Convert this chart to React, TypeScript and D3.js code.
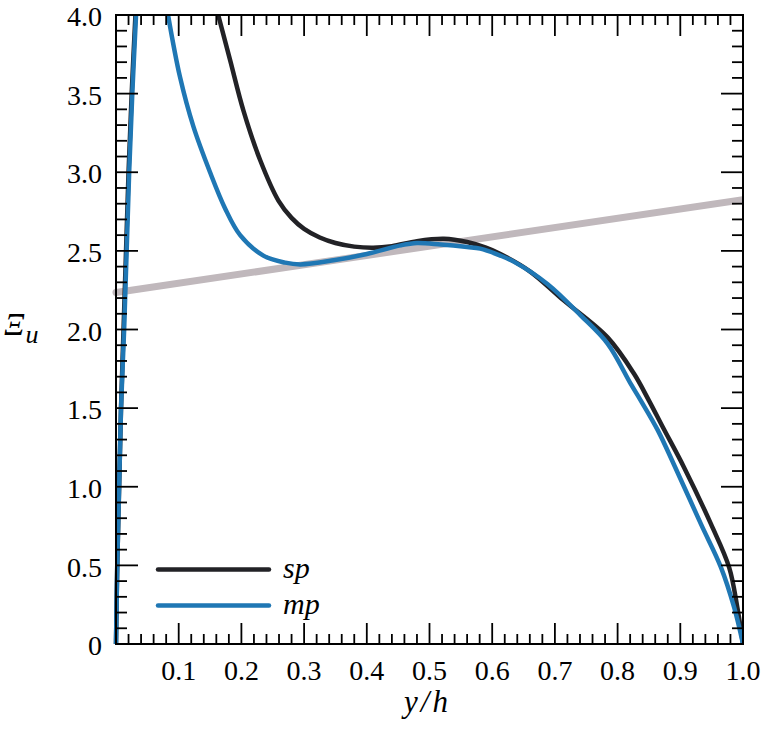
import React, { useRef, useEffect } from 'react';
import * as d3 from 'd3';

// sp: single-phase, mp: multi-phase
const spWallX = [0, 0.002, 0.005, 0.008, 0.012, 0.016, 0.020, 0.025, 0.031];
const spWallY = [0, 0.5, 1.0, 1.5, 2.0, 2.5, 3.0, 3.5, 4.0];
const mpWallX = [0, 0.002, 0.005, 0.008, 0.013, 0.017, 0.021, 0.026, 0.032];
const mpWallY = [0, 0.5, 1.0, 1.5, 2.0, 2.5, 3.0, 3.5, 4.0];

const spOuterX = [0.163, 0.182, 0.203, 0.230, 0.259, 0.28, 0.30, 0.325, 0.35, 0.38, 0.41, 0.44, 0.48, 0.523, 0.56, 0.59, 0.613, 0.66, 0.714, 0.784, 0.826, 0.850, 0.872, 0.906, 0.949, 0.978, 0.991, 1.0];
const spOuterY = [4.0, 3.713, 3.395, 3.076, 2.82, 2.71, 2.64, 2.585, 2.55, 2.527, 2.52, 2.53, 2.562, 2.577, 2.556, 2.52, 2.48, 2.37, 2.185, 1.95, 1.72, 1.548, 1.38, 1.123, 0.762, 0.486, 0.231, 0];
const mpOuterX = [0.083, 0.102, 0.1235, 0.150, 0.174, 0.198, 0.235, 0.27, 0.294, 0.347, 0.40, 0.454, 0.48, 0.518, 0.56, 0.581, 0.613, 0.635, 0.688, 0.741, 0.784, 0.821, 0.837, 0.864, 0.890, 0.933, 0.965, 0.986, 1.0];
const mpOuterY = [4.0, 3.607, 3.29, 3.0, 2.77, 2.60, 2.47, 2.425, 2.414, 2.44, 2.48, 2.535, 2.55, 2.54, 2.524, 2.514, 2.47, 2.43, 2.29, 2.09, 1.91, 1.654, 1.548, 1.36, 1.14, 0.762, 0.486, 0.231, 0];

const refX = [0, 1];
const refY = [2.235, 2.825];

const xTicks = [0.1, 0.2, 0.3, 0.4, 0.5, 0.6, 0.7, 0.8, 0.9, 1.0];
const yTicks = [0, 0.5, 1.0, 1.5, 2.0, 2.5, 3.0, 3.5, 4.0];
const legendNames = ['sp', 'mp'];

const width = 766;
const height = 743;
const margin = { top: 15, right: 23, bottom: 99, left: 116 };
const FONT = "'Liberation Serif', 'DejaVu Serif', 'Noto Serif', serif";
const BLACK = '#222226';
const BLUE = '#1f77b4';

const zip = (xs: number[], ys: number[]) => xs.map((x, i) => [x, ys[i]] as [number, number]);

const App: React.FC = () => {
  const svgRef = useRef<SVGSVGElement | null>(null);

  useEffect(() => {
    document.body.style.margin = '0';
    if (!svgRef.current) return;
    const svg = d3.select(svgRef.current);
    svg.selectAll('*').remove();

    const innerWidth = width - margin.left - margin.right;
    const innerHeight = height - margin.top - margin.bottom;

    const x = d3.scaleLinear().domain([0, 1]).range([0, innerWidth]);
    const y = d3.scaleLinear().domain([0, 4]).range([innerHeight, 0]);

    const g = svg.append('g').attr('transform', `translate(${margin.left},${margin.top})`);

    svg.append('defs').append('clipPath').attr('id', 'plot-clip')
      .append('rect').attr('x', -4).attr('y', 0).attr('width', innerWidth + 4).attr('height', innerHeight + 4);

    const line = d3.line<[number, number]>()
      .x(d => x(d[0]))
      .y(d => y(d[1]))
      .curve(d3.curveCatmullRom.alpha(0.5));

    const plot = g.append('g').attr('clip-path', 'url(#plot-clip)');

    plot.append('path')
      .datum(zip(refX, refY))
      .attr('fill', 'none')
      .attr('stroke', '#c0b8bc')
      .attr('stroke-width', 7)
      .attr('stroke-linecap', 'round')
      .attr('d', line);

    [zip(spWallX, spWallY), zip(spOuterX, spOuterY)].forEach(d => {
      plot.append('path').datum(d)
        .attr('fill', 'none').attr('stroke', BLACK).attr('stroke-width', 4.5)
        .attr('d', line);
    });
    [zip(mpWallX, mpWallY), zip(mpOuterX, mpOuterY)].forEach(d => {
      plot.append('path').datum(d)
        .attr('fill', 'none').attr('stroke', BLUE).attr('stroke-width', 4.5)
        .attr('d', line);
    });

    // ticks (inward, on all four sides)
    const xMinor = d3.range(0, 51).map(i => i / 50);
    const yMinor = d3.range(0, 41).map(i => i / 10);
    const isMajorX = (v: number) => Math.abs(v * 10 - Math.round(v * 10)) < 1e-6;
    const isMajorY = (v: number) => Math.abs(v * 2 - Math.round(v * 2)) < 1e-6;

    const ticks = g.append('g').attr('stroke', '#000').attr('stroke-width', 1.8);
    xMinor.forEach(v => {
      const len = isMajorX(v) ? 21 : 10;
      ticks.append('line').attr('x1', x(v)).attr('x2', x(v)).attr('y1', innerHeight).attr('y2', innerHeight - len);
      ticks.append('line').attr('x1', x(v)).attr('x2', x(v)).attr('y1', 0).attr('y2', len);
    });
    yMinor.forEach(v => {
      const len = isMajorY(v) ? 22 : 11;
      ticks.append('line').attr('y1', y(v)).attr('y2', y(v)).attr('x1', 0).attr('x2', len);
      ticks.append('line').attr('y1', y(v)).attr('y2', y(v)).attr('x1', innerWidth).attr('x2', innerWidth - len);
    });

    g.append('rect')
      .attr('width', innerWidth).attr('height', innerHeight)
      .attr('fill', 'none').attr('stroke', '#000').attr('stroke-width', 2);

    // tick labels
    g.append('g').selectAll('text').data(xTicks).join('text')
      .attr('x', d => x(d)).attr('y', innerHeight + 36)
      .attr('text-anchor', 'middle')
      .style('font-family', FONT).attr('font-size', 28)
      .text(d => d.toFixed(1));

    g.append('g').selectAll('text').data(yTicks).join('text')
      .attr('x', -14).attr('y', d => y(d))
      .attr('dy', '0.4em')
      .attr('text-anchor', 'end')
      .style('font-family', FONT).attr('font-size', 28)
      .text(d => (d === 0 ? '0' : d.toFixed(1)));

    // axis titles
    const yt = svg.append('text')
      .attr('x', 4).attr('y', 335)
      .style('font-family', FONT).attr('font-style', 'italic');
    yt.append('tspan').attr('font-size', 32).text('Ξ');
    yt.append('tspan').attr('font-size', 26).attr('dy', 8).attr('dx', 1).text('u');

    svg.append('text')
      .attr('x', margin.left + x(0.5) - 2).attr('y', 712)
      .attr('text-anchor', 'middle')
      .style('font-family', FONT).attr('font-style', 'italic').attr('font-size', 31)
      .attr('letter-spacing', 3)
      .text('y/h');

    // legend
    const legend = g.append('g');
    const legendColors = [BLACK, BLUE];
    legendNames.forEach((name, i) => {
      const ly = y(0.5) + 4 + i * 36;
      legend.append('line')
        .attr('x1', 42).attr('x2', 153).attr('y1', ly).attr('y2', ly)
        .attr('stroke', legendColors[i]).attr('stroke-width', 4.5).attr('stroke-linecap', 'round');
      legend.append('text')
        .attr('x', 167).attr('y', ly).attr('dy', '0.3em')
        .style('font-family', FONT).attr('font-style', 'italic').attr('font-size', 30)
        .text(name);
    });
  }, []);

  return <svg ref={svgRef} width={width} height={height} style={{ display: 'block' }} />;
};

export default App;
